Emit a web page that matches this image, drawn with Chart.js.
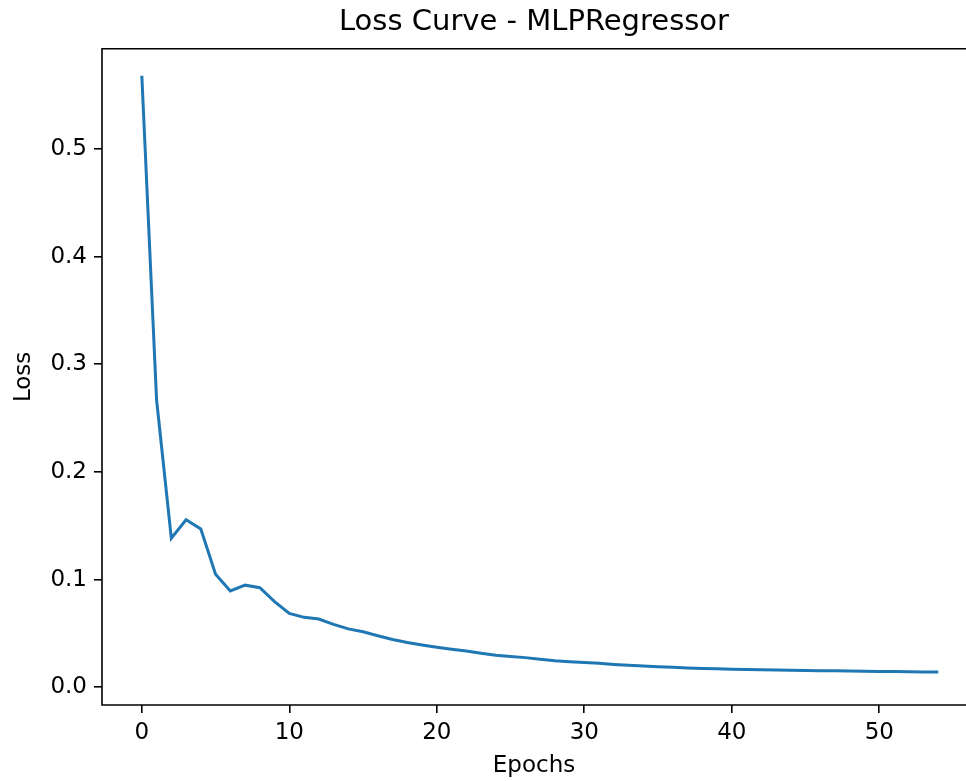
<!DOCTYPE html>
<html>
<head>
<meta charset="utf-8">
<script src="https://cdn.jsdelivr.net/npm/chart.js@4/dist/chart.umd.min.js"></script>
<style>
  html, body { margin: 0; padding: 0; background: #fff; overflow: hidden; }
  #wrap { position: absolute; left: 0; top: 0; width: 966px; height: 781px; }
</style>
</head>
<body>
<div id="wrap"><canvas id="c"></canvas></div>
<script>
// ---- data ----
const epochs = Array.from({length: 55}, (_, i) => i);
const lossValues = [
  0.568, 0.267, 0.1385, 0.1555, 0.147, 0.105, 0.0895, 0.0948, 0.0925, 0.0795,
  0.0686, 0.0649, 0.0633, 0.0584, 0.0542, 0.0515, 0.0478, 0.0444, 0.0416, 0.0393,
  0.0372, 0.0353, 0.0336, 0.0315, 0.0298, 0.0285, 0.0275, 0.0260, 0.0245, 0.0237,
  0.0230, 0.0222, 0.0212, 0.0205, 0.0198, 0.0191, 0.0185, 0.0179, 0.0175, 0.0171,
  0.0168, 0.0165, 0.0163, 0.0160, 0.0158, 0.0156, 0.0154, 0.0152, 0.0150, 0.0148,
  0.0146, 0.0145, 0.0143, 0.0142, 0.0141
];
const xTicks = [0, 10, 20, 30, 40, 50];
const yTicks = [0.0, 0.1, 0.2, 0.3, 0.4, 0.5];
const titleText = 'Loss Curve - MLPRegressor';
const xLabel = 'Epochs';
const yLabel = 'Loss';

const FONT = "'DejaVu Sans', sans-serif";
// axes frame: left, top and bottom spines (the right spine lies beyond the picture edge)
const frame = {
  id: 'frame',
  afterDatasetsDraw(chart) {
    const a = chart.chartArea, ctx = chart.ctx;
    ctx.save();
    ctx.strokeStyle = '#000';
    ctx.lineWidth = 1.6;
    ctx.beginPath();
    ctx.moveTo(chart.width, a.top);
    ctx.lineTo(a.left, a.top);
    ctx.lineTo(a.left, a.bottom);
    ctx.lineTo(chart.width, a.bottom);
    ctx.stroke();
    ctx.restore();
  }
};

new Chart(document.getElementById('c'), {
  type: 'line',
  data: {
    datasets: [{
      data: epochs.map((e, i) => ({x: e, y: lossValues[i]})),
      borderColor: '#1f77b4',
      borderWidth: 3,
      pointRadius: 0,
      tension: 0,
      fill: false
    }]
  },
  plugins: [frame],
  options: {
    responsive: true,
    maintainAspectRatio: false,
    animation: false,
    layout: { padding: { top: 0, right: 0, bottom: 0, left: 0 } },
    plugins: {
      legend: { display: false },
      tooltip: { enabled: false },
      title: {
        display: true,
        fullSize: false,
        text: titleText,
        color: '#000',
        font: { family: FONT, size: 29, weight: 'normal' },
        padding: { top: 5, bottom: 9 }
      }
    },
    scales: {
      x: {
        type: 'linear',
        min: -2.7,
        max: 55.88,
        afterFit(s) { s.height = 76; },
        afterBuildTicks(s) { s.ticks = xTicks.map(v => ({value: v})); },
        grid: { display: true, drawOnChartArea: false, drawTicks: true, tickLength: 8, color: '#000', lineWidth: 1.6 },
        border: { display: false },
        ticks: { color: '#000', font: { family: FONT, size: 23 }, padding: 6, maxRotation: 0,
                 callback: v => String(v) },
        title: { display: true, text: xLabel, color: '#000', font: { family: FONT, size: 23 }, padding: { top: 0, bottom: 1 } }
      },
      y: {
        type: 'linear',
        min: -0.0165,
        max: 0.593,
        afterFit(s) { s.width = 102; },
        afterBuildTicks(s) { s.ticks = yTicks.map(v => ({value: v})); },
        grid: { display: true, drawOnChartArea: false, drawTicks: true, tickLength: 8, color: '#000', lineWidth: 1.6 },
        border: { display: false },
        ticks: { color: '#000', font: { family: FONT, size: 23 }, padding: 7,
                 callback: v => Number(v).toFixed(1) },
        title: { display: true, text: yLabel, color: '#000', font: { family: FONT, size: 23 }, padding: { top: 10, bottom: 0 } }
      }
    }
  }
});
</script>
</body>
</html>
